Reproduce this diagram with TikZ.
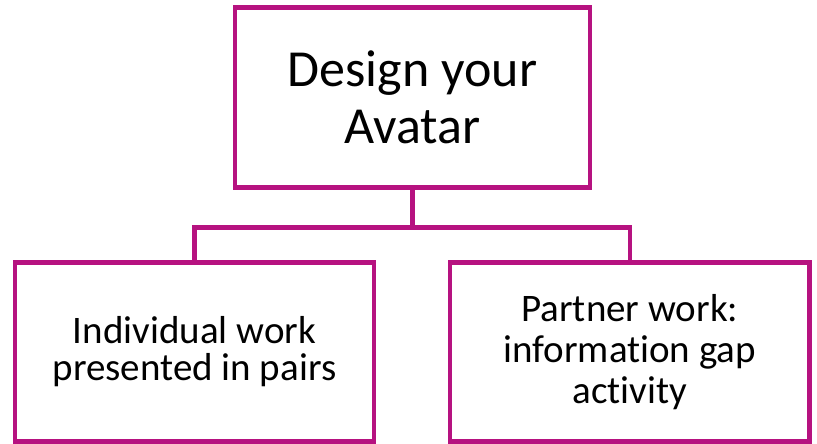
\documentclass[tikz,border=0pt]{standalone}
\usepackage{fontspec}
\setmainfont{Carlito}[Ligatures=NoCommon]
\definecolor{plum}{RGB}{182,18,128}
\begin{document}
\begin{tikzpicture}[x=1pt, y=-1pt,
    box/.style={rectangle, draw=plum, line width=4.5pt, align=center},
    link/.style={draw=plum, line width=4.5pt}]
    \useasboundingbox (0,0) rectangle (817,444);
    \node[box, minimum width=355pt, minimum height=180pt, font=\fontsize{52}{57}\selectfont] (avatar) at (412.5,97.5) {Design your\\Avatar};
    \node[box, minimum width=359pt, minimum height=179pt, font=\fontsize{39}{37}\selectfont] (indiv) at (194.5,352) {Individual work\\presented in pairs};
    \node[box, minimum width=359.5pt, minimum height=179pt, font=\fontsize{39}{41}\selectfont] (partner) at (629.75,352) {Partner work:\\information gap\\activity};

    \draw[link] (avatar.south) -- ++(0,37.5) coordinate (split);
    \draw[link] (indiv.north) |- (split) -| (partner.north);
\end{tikzpicture}
\end{document}
